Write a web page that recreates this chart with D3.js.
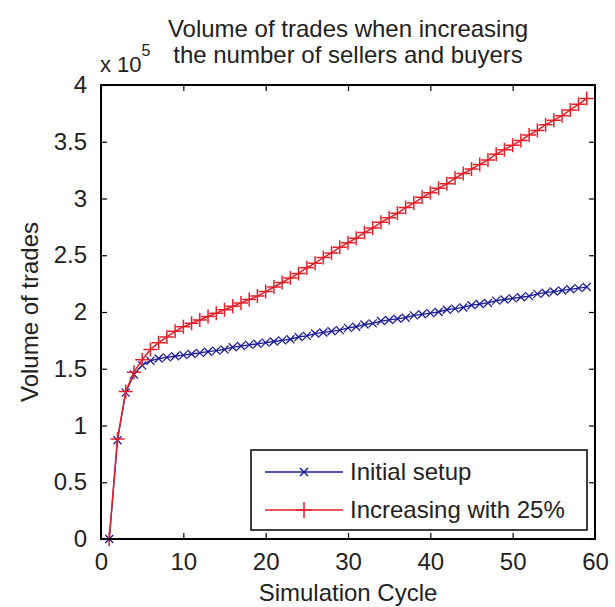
<!DOCTYPE html>
<html>
<head>
<meta charset="utf-8">
<script src="https://cdn.jsdelivr.net/npm/d3@7"></script>
<style>
  html, body { margin: 0; padding: 0; background: #fff; }
  svg text { font-family: Arial, "Liberation Sans", sans-serif; fill: #222; }
</style>
</head>
<body>
<div id="chart"></div>
<script>
// simulation cycles
const cycles = d3.range(1, 60);

// volume of trades (x 10^5)
const initialSetup = [
  0, 0.87, 1.29, 1.45, 1.53, 1.57, 1.59, 1.60, 1.61, 1.62,
  1.63, 1.64, 1.65, 1.66, 1.67, 1.69, 1.70, 1.71, 1.72, 1.73,
  1.74, 1.75, 1.76, 1.78, 1.79, 1.81, 1.82, 1.83, 1.84, 1.86,
  1.87, 1.89, 1.90, 1.92, 1.93, 1.94, 1.95, 1.97, 1.98, 1.99,
  2.00, 2.02, 2.03, 2.04, 2.06, 2.07, 2.08, 2.10, 2.11, 2.12,
  2.13, 2.14, 2.16, 2.17, 2.18, 2.19, 2.20, 2.21, 2.22
];
const increasing25 = [
  0, 0.88, 1.30, 1.47, 1.58, 1.67, 1.73, 1.78, 1.83, 1.87,
  1.90, 1.93, 1.96, 1.99, 2.02, 2.05, 2.08, 2.11, 2.14, 2.18,
  2.22, 2.26, 2.30, 2.34, 2.39, 2.43, 2.48, 2.52, 2.57, 2.61,
  2.65, 2.70, 2.74, 2.79, 2.83, 2.87, 2.92, 2.96, 3.01, 3.05,
  3.09, 3.13, 3.18, 3.22, 3.26, 3.30, 3.34, 3.39, 3.43, 3.47,
  3.51, 3.56, 3.60, 3.65, 3.69, 3.73, 3.78, 3.83, 3.88
];

const xTicks = [0, 10, 20, 30, 40, 50, 60];
const yTicks = [0, 0.5, 1, 1.5, 2, 2.5, 3, 3.5, 4];
const seriesNames = ["Initial setup", "Increasing with 25%"];

const W = 615, H = 607;
const pLeft = 101, pRight = 595, pTop = 85, pBottom = 539;
const blue = "#1c1c9c", red = "#e3202a";

const svg = d3.select("#chart").append("svg")
  .attr("width", W).attr("height", H);

const x = d3.scaleLinear().domain([0, 60]).range([pLeft, pRight]);
const y = d3.scaleLinear().domain([0, 4]).range([pBottom, pTop]);

// title
svg.append("text").attr("x", 348).attr("y", 37).attr("text-anchor", "middle")
  .style("font-size", "24px").text("Volume of trades when increasing");
svg.append("text").attr("x", 348).attr("y", 63).attr("text-anchor", "middle")
  .style("font-size", "24px").text("the number of sellers and buyers");

// exponent
const ex = svg.append("text").attr("x", 100).attr("y", 72).style("font-size", "22px");
ex.append("tspan").text("x 10");
ex.append("tspan").attr("dy", -16).style("font-size", "16px").text("5");

// series
const lineGen = d3.line().x((d, i) => x(cycles[i])).y(d => y(d));

const plot = svg.append("g");

function plusPath(s) {
  return `M${-s},0H${s}M0,${-s}V${s}`;
}
function crossPath(s) {
  return `M${-s},${-s}L${s},${s}M${-s},${s}L${s},${-s}`;
}

plot.append("path").datum(initialSetup)
  .attr("fill", "none").attr("stroke", blue).attr("stroke-width", 1.3)
  .attr("d", lineGen);
plot.selectAll(".mb").data(initialSetup).enter().append("path")
  .attr("transform", (d, i) => `translate(${x(cycles[i])},${y(d)})`)
  .attr("d", crossPath(4)).attr("stroke", blue).attr("stroke-width", 1.3);

plot.append("path").datum(increasing25)
  .attr("fill", "none").attr("stroke", red).attr("stroke-width", 1.5)
  .attr("d", lineGen);
plot.selectAll(".mr").data(increasing25).enter().append("path")
  .attr("transform", (d, i) => `translate(${x(cycles[i])},${y(d)})`)
  .attr("d", plusPath(7)).attr("stroke", red).attr("stroke-width", 1.5);

// axes
const axisStyle = g => {
  g.select(".domain").remove();
  g.selectAll("line").attr("stroke", "#000").attr("stroke-width", 1.2);
  g.selectAll("text").style("font-size", "24px").attr("fill", "#222");
};
const fmt = d3.format("~g");

svg.append("g").attr("transform", `translate(0,${pBottom})`)
  .call(d3.axisBottom(x).tickValues(xTicks).tickFormat(fmt).tickSizeInner(-6).tickSizeOuter(0).tickPadding(14))
  .call(axisStyle);
svg.append("g").attr("transform", `translate(0,${pTop})`)
  .call(d3.axisTop(x).tickValues(xTicks).tickSizeInner(-6).tickSizeOuter(0).tickFormat(""))
  .call(axisStyle);
svg.append("g").attr("transform", `translate(${pLeft},0)`)
  .call(d3.axisLeft(y).tickValues(yTicks).tickFormat(fmt).tickSizeInner(-6).tickSizeOuter(0).tickPadding(14))
  .call(axisStyle);
svg.append("g").attr("transform", `translate(${pRight},0)`)
  .call(d3.axisRight(y).tickValues(yTicks).tickSizeInner(-6).tickSizeOuter(0).tickFormat(""))
  .call(axisStyle);

svg.append("rect").attr("x", pLeft).attr("y", pTop)
  .attr("width", pRight - pLeft).attr("height", pBottom - pTop)
  .attr("fill", "none").attr("stroke", "#000").attr("stroke-width", 2);

// axis labels
svg.append("text").attr("x", 348).attr("y", 601).attr("text-anchor", "middle")
  .style("font-size", "24px").text("Simulation Cycle");
svg.append("text").attr("transform", "translate(38,312) rotate(-90)")
  .attr("text-anchor", "middle").style("font-size", "24px").text("Volume of trades");

// legend
const lg = svg.append("g");
lg.append("rect").attr("x", 251).attr("y", 450).attr("width", 336).attr("height", 80)
  .attr("fill", "#fff").attr("stroke", "#000").attr("stroke-width", 1.5);
const legendItems = [
  { name: seriesNames[0], color: blue, marker: crossPath(4), yy: 472 },
  { name: seriesNames[1], color: red, marker: plusPath(8), yy: 510 }
];
legendItems.forEach(it => {
  lg.append("line").attr("x1", 265).attr("x2", 343).attr("y1", it.yy).attr("y2", it.yy)
    .attr("stroke", it.color).attr("stroke-width", 1.5);
  lg.append("path").attr("transform", `translate(304,${it.yy})`)
    .attr("d", it.marker).attr("stroke", it.color).attr("stroke-width", 1.5);
  lg.append("text").attr("x", 350).attr("y", it.yy + 8)
    .style("font-size", "24px").text(it.name);
});
</script>
</body>
</html>
